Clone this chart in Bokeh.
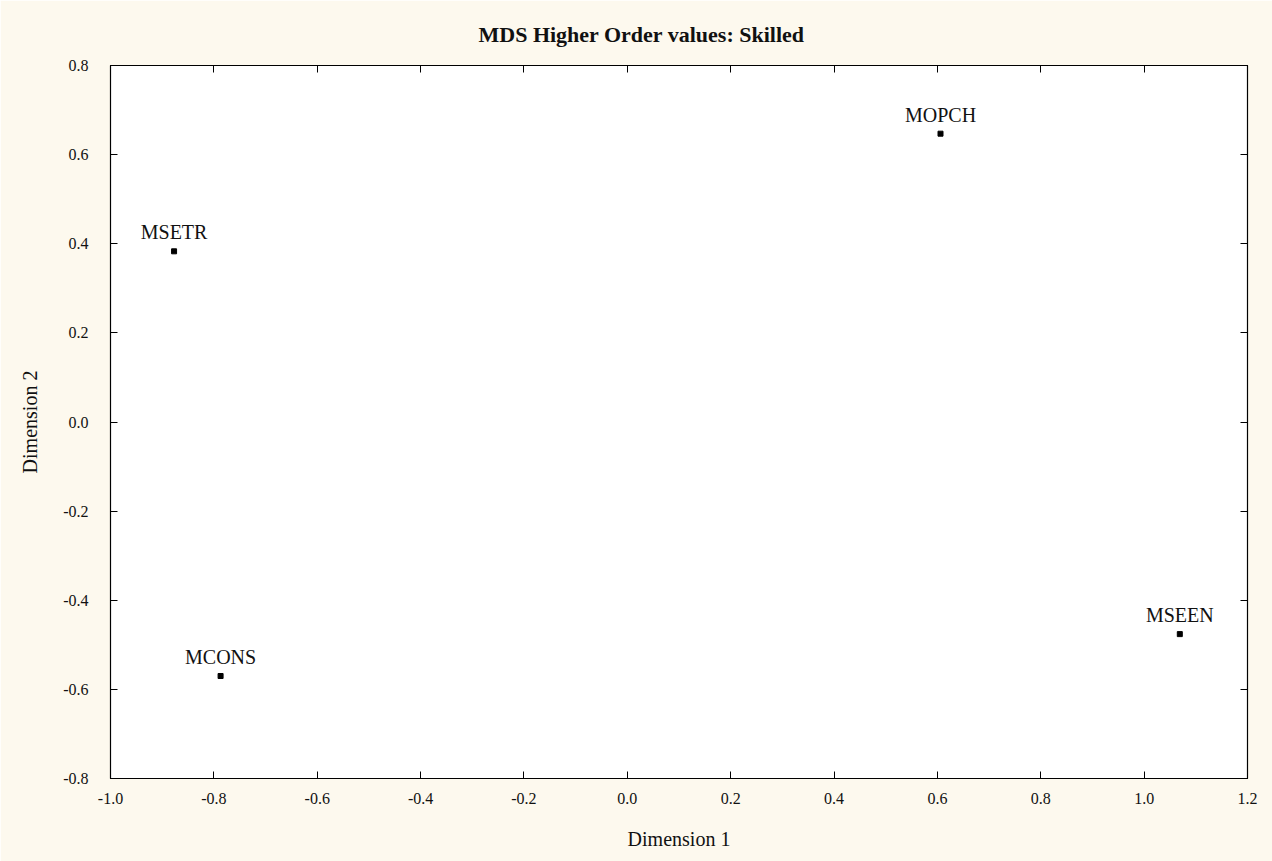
from bokeh.plotting import figure
from bokeh.models import (ColumnDataSource, LinearAxis, Range1d, FixedTicker,
                          LabelSet, CustomJSTickFormatter)
from bokeh.embed import file_html
from bokeh.resources import INLINE

# MDS coordinates of the higher-order values
names = ["MOPCH", "MSETR", "MCONS", "MSEEN"]
dim1 = [0.606, -0.877, -0.787, 1.069]
dim2 = [0.647, 0.383, -0.570, -0.476]

x_ticks = [-1.0, -0.8, -0.6, -0.4, -0.2, 0.0, 0.2, 0.4, 0.6, 0.8, 1.0, 1.2]
y_ticks = [-0.8, -0.6, -0.4, -0.2, 0.0, 0.2, 0.4, 0.6, 0.8]

FONT = "Liberation Serif"
BG = "#fdf9ee"

src = ColumnDataSource(dict(x=dim1, y=dim2, name=names))

p = figure(width=1272, height=861, output_backend="svg", toolbar_location=None,
           x_range=Range1d(x_ticks[0], x_ticks[-1]),
           y_range=Range1d(y_ticks[0], y_ticks[-1]),
           title="MDS Higher Order values: Skilled",
           min_border_left=110, min_border_right=25,
           min_border_top=63, min_border_bottom=83)

p.background_fill_color = "white"
p.border_fill_color = BG
p.outline_line_color = "black"
p.outline_line_width = 1.2
p.grid.visible = False

# title sits centred on the page rather than over the frame
p.title.align = "left"
p.title.offset = 368
p.title.text_font = FONT
p.title.text_font_size = "22px"
p.title.text_font_style = "bold"
p.title.text_color = "#111111"
p.title.standoff = 38

one_decimal = CustomJSTickFormatter(code="return tick.toFixed(1);")
blank = CustomJSTickFormatter(code="return '';")

xb = p.xaxis[0]
xb.ticker = FixedTicker(ticks=x_ticks)
xb.formatter = one_decimal
yl = p.yaxis[0]
yl.ticker = FixedTicker(ticks=y_ticks)
yl.formatter = one_decimal
# mirrored tick marks along the top and right frame edges
xt = LinearAxis(ticker=FixedTicker(ticks=x_ticks), formatter=blank)
yr = LinearAxis(ticker=FixedTicker(ticks=y_ticks), formatter=blank)
p.add_layout(xt, "above")
p.add_layout(yr, "right")

for ax in (xb, yl, xt, yr):
    ax.axis_line_color = "black"
    ax.major_tick_in = 7
    ax.major_tick_out = 0
    ax.minor_tick_line_color = None
    ax.major_tick_line_color = "black"
    ax.major_label_text_font = FONT
    ax.major_label_text_font_size = "16px"
    ax.major_label_text_color = "#111111"
    ax.axis_label_text_font = FONT
    ax.axis_label_text_font_size = "20px"
    ax.axis_label_text_font_style = "normal"
    ax.axis_label_text_color = "#111111"

xt.major_label_standoff = 0
yr.major_label_standoff = 0

xb.axis_label = "Dimension 1"
xb.major_label_standoff = 14
xb.axis_label_standoff = 21
yl.axis_label = "Dimension 2"
yl.major_label_standoff = 22
yl.axis_label_standoff = 19
yl.major_label_orientation = "horizontal"

p.scatter("x", "y", source=src, marker="square", size=5, color="black")

labels = LabelSet(x="x", y="y", text="name", source=src,
                  text_font=FONT, text_font_size="20px", text_color="#111111",
                  text_align="center", text_baseline="alphabetic", y_offset=12)
p.add_layout(labels)

open("out.html", "w").write(file_html(p, INLINE))
